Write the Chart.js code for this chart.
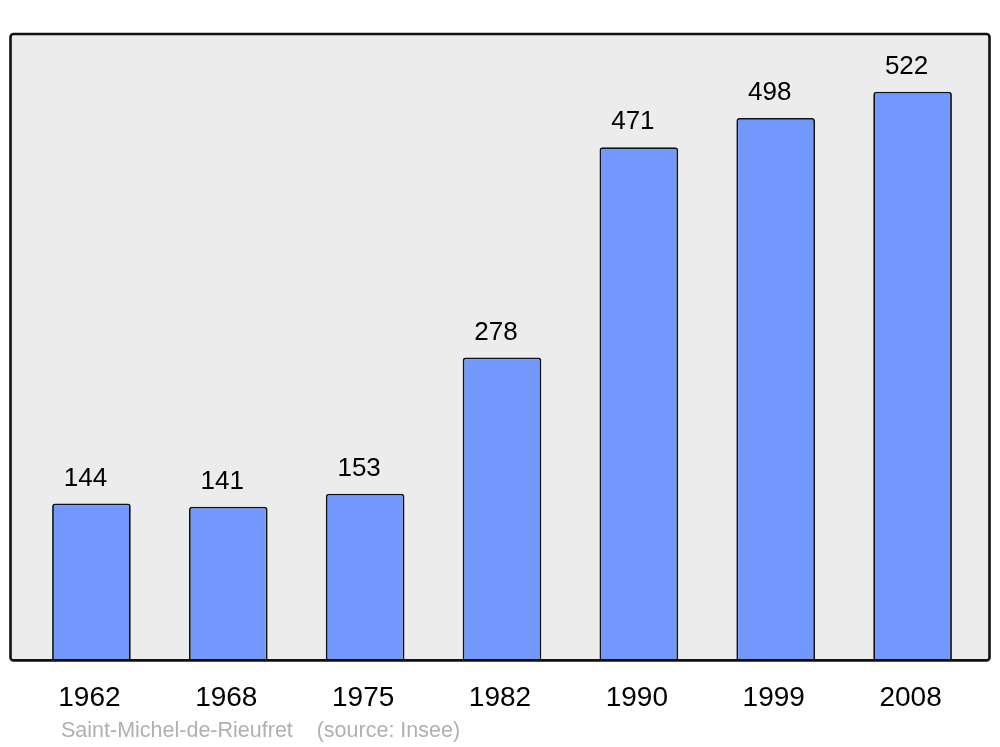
<!DOCTYPE html>
<html>
<head>
<meta charset="utf-8">
<script src="https://cdn.jsdelivr.net/npm/chart.js@4.4.1/dist/chart.umd.min.js"></script>
<style>
  html, body { margin: 0; padding: 0; background: #fff; }
  #wrap { width: 1000px; height: 747px; }
</style>
</head>
<body>
<div id="wrap"><canvas id="chart"></canvas></div>
<script>
const years = ['1962', '1968', '1975', '1982', '1990', '1999', '2008']
const population = [144, 141, 153, 278, 471, 498, 522]
const yMax = 575
const footerText = 'Saint-Michel-de-Rieufret    (source: Insee)'

const fontName = '"Liberation Sans", Arial, sans-serif'

// grey box behind bars, black frame over them
const framePlugin = {
    id: 'frame',
    beforeDatasetsDraw(chart) {
        const a = chart.chartArea
        const ctx = chart.ctx
        ctx.save()
        ctx.beginPath()
        ctx.roundRect(a.left - 12.5, a.top, a.right - a.left + 21, a.bottom - a.top, 3)
        ctx.fillStyle = '#ececec'
        ctx.fill()
        ctx.restore()
    },
    afterDatasetsDraw(chart) {
        const a = chart.chartArea
        const ctx = chart.ctx
        ctx.save()
        ctx.beginPath()
        ctx.roundRect(a.left - 12.5, a.top, a.right - a.left + 21, a.bottom - a.top, 3)
        ctx.lineWidth = 2.6
        ctx.strokeStyle = '#111'
        ctx.stroke()

        // value labels
        const meta = chart.getDatasetMeta(0)
        ctx.fillStyle = '#000'
        ctx.font = '26px ' + fontName
        ctx.textAlign = 'center'
        ctx.textBaseline = 'middle'
        meta.data.forEach(function (bar, i) {
            ctx.fillText(String(population[i]), bar.x - 6, bar.y - 25)
        })

        // footer
        ctx.fillStyle = '#b0b0b0'
        ctx.font = '21.5px ' + fontName
        ctx.textAlign = 'left'
        ctx.fillText(footerText, a.left + 38, 731)
        ctx.restore()
    }
}

const ctx = document.querySelector('#chart').getContext('2d')
new Chart(ctx, {
    type: 'bar',
    data: {
        labels: years,
        datasets: [{
            data: population,
            backgroundColor: '#7399ff',
            borderColor: '#111',
            borderWidth: 1.8,
            borderSkipped: 'bottom',
            borderRadius: { topLeft: 3, topRight: 3 },
            barPercentage: 0.575,
            categoryPercentage: 1
        }]
    },
    options: {
        responsive: true,
        maintainAspectRatio: false,
        animation: false,
        layout: { padding: { left: 23, right: 19, top: 34, bottom: 19 } },
        plugins: {
            legend: { display: false },
            tooltip: { enabled: false }
        },
        scales: {
            x: {
                grid: { display: false },
                border: { display: false },
                ticks: {
                    color: '#000',
                    padding: 13,
                    labelOffset: -2,
                    font: { family: fontName, size: 28 }
                }
            },
            y: {
                display: false,
                min: 0,
                max: yMax
            }
        }
    },
    plugins: [framePlugin]
})
</script>
</body>
</html>
